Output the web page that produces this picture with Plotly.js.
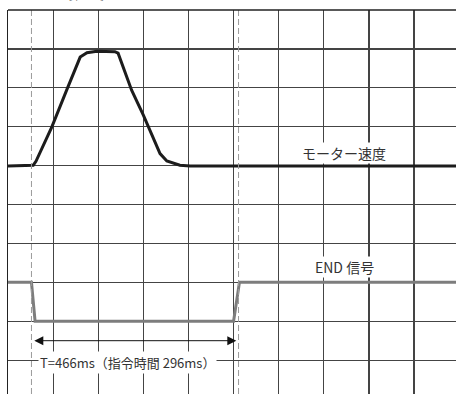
<!DOCTYPE html>
<html>
<head>
<meta charset="utf-8">
<script src="https://cdn.plot.ly/plotly-3.0.1.min.js"></script>
<style>
  html, body { margin: 0; padding: 0; background: #fff; overflow: hidden; }
  #chart { width: 456px; height: 394px; }
</style>
</head>
<body>
<div id="chart"></div>
<script>
// Time axis in ms (100 ms per division), vertical axis in grid divisions
const speedTime  = [0, 51, 56, 62, 97, 130, 160, 175, 197, 237, 244, 274, 300, 337, 352, 381, 404, 993];
const speedValue = [5.99, 6.0, 6.01, 6.11, 6.99, 7.94, 8.79, 8.90, 8.94, 8.93, 8.89, 7.94, 7.30, 6.31, 6.12, 6.01, 5.99, 5.99];

const endTime  = [0, 52, 60, 500, 513, 993];
const endValue = [3.0, 3.0, 2.0, 2.0, 3.0, 3.0];

const markerTimes = [52, 511];          // dashed reference lines
const spanStart = 55, spanEnd = 506, spanLevel = 1.5;
const spanLabel = "T=466ms（指令時間 296ms）";
const speedLabel = "モーター速度";
const endLabel = "END 信号";
const axisLabel = "回転速度 [r/min]";

const traces = [
  {
    x: speedTime, y: speedValue, mode: 'lines', type: 'scatter',
    line: {color: '#1c1c1c', width: 3}, hoverinfo: 'skip'
  },
  {
    x: endTime, y: endValue, mode: 'lines', type: 'scatter',
    line: {color: '#7d7d7d', width: 3}, hoverinfo: 'skip'
  }
];

const shapes = markerTimes.map(t => ({
  type: 'line', xref: 'x', yref: 'paper', x0: t, x1: t, y0: 0, y1: 1,
  line: {color: '#9a9a9a', width: 1, dash: '6px,3px'}, layer: 'above'
}));

const annotations = [
  {
    x: spanEnd, y: spanLevel, ax: spanStart, ay: spanLevel,
    xref: 'x', yref: 'y', axref: 'x', ayref: 'y',
    text: '', showarrow: true, arrowhead: 2, startarrowhead: 2,
    arrowside: 'end+start', arrowsize: 1.8, arrowwidth: 1, arrowcolor: '#111',
    standoff: 0, startstandoff: 0
  },
  {
    x: 264, y: 0.95, xref: 'x', yref: 'y', text: spanLabel, showarrow: false,
    font: {family: 'Noto Sans CJK JP, sans-serif', size: 13, color: '#333'},
    bgcolor: '#fff', borderpad: 1
  },
  {
    x: 745, y: 6.32, xref: 'x', yref: 'y', text: speedLabel, showarrow: false,
    font: {family: 'Noto Sans CJK JP, sans-serif', size: 14, color: '#333'},
    bgcolor: '#fff', borderpad: 0
  },
  {
    x: 745, y: 3.39, xref: 'x', yref: 'y', text: endLabel, showarrow: false,
    font: {family: 'Noto Sans CJK JP, sans-serif', size: 14, color: '#333'},
    bgcolor: '#fff', borderpad: 0
  },
  {
    x: 27, y: 1.041, xref: 'x', yref: 'paper', xanchor: 'left', yanchor: 'middle',
    text: axisLabel, showarrow: false,
    font: {family: 'Noto Sans CJK JP, sans-serif', size: 11, color: '#777'}
  }
];

const layout = {
  width: 456, height: 394,
  margin: {l: 8, r: 0, t: 10, b: 0, pad: 0},
  paper_bgcolor: '#fff', plot_bgcolor: '#fff',
  showlegend: false,
  xaxis: {
    range: [0, 993], dtick: 100, tick0: 0,
    showgrid: true, gridcolor: '#444', gridwidth: 1.2,
    showticklabels: false, ticks: '', zeroline: false,
    showline: true, linecolor: '#222', linewidth: 1.5, mirror: false
  },
  yaxis: {
    range: [0.13, 10], dtick: 1, tick0: 0,
    showgrid: true, gridcolor: '#444', gridwidth: 1.2,
    showticklabels: false, ticks: '', zeroline: false,
    showline: true, linecolor: '#222', linewidth: 1.5, mirror: false
  },
  shapes: shapes.concat([{
    type: 'line', xref: 'paper', yref: 'paper', x0: 0, x1: 1, y0: 1, y1: 1,
    line: {color: '#222', width: 1.5}
  }]),
  annotations: annotations
};

Plotly.newPlot('chart', traces, layout, {staticPlot: true, displayModeBar: false});
</script>
</body>
</html>
